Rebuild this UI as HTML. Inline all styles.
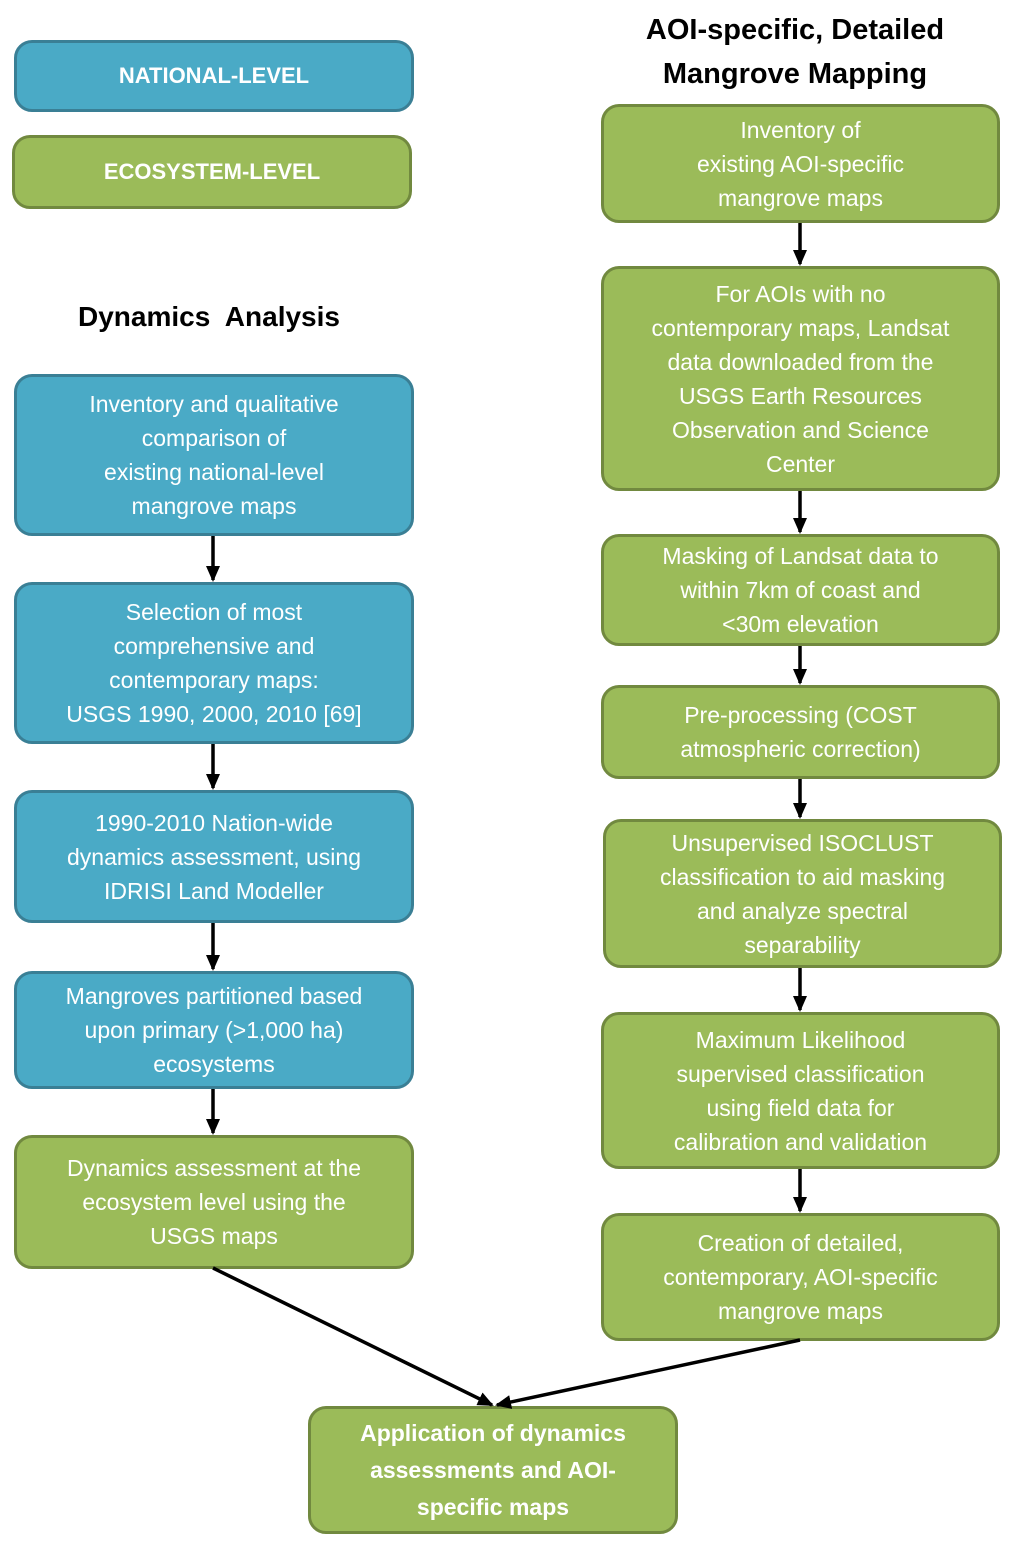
<!DOCTYPE html>
<html><head><meta charset="utf-8"><style>
body{margin:0;width:1024px;height:1553px;background:#fff;position:relative;font-family:"Liberation Sans",sans-serif;overflow:hidden}
.b{position:absolute;box-sizing:border-box;border-radius:18px;display:flex;align-items:center;justify-content:center;text-align:center;color:#fff;font-size:23px;line-height:34px;border:3px solid}
.bl{background:#4aaac6;border-color:#3a7f95}
.gr{background:#9bbb59;border-color:#71893f}
.t{position:absolute;font-weight:bold;text-align:center;color:#000}
.bd{font-weight:bold}
svg{position:absolute;left:0;top:0}
</style></head><body>
<div class="b bl bd" style="left:14px;top:40px;width:400px;height:72px;font-size:22px">NATIONAL-LEVEL</div>
<div class="b gr bd" style="left:12px;top:135px;width:400px;height:74px;font-size:22px">ECOSYSTEM-LEVEL</div>
<div class="t" style="left:0;width:418px;top:301px;font-size:28px">Dynamics&nbsp; Analysis</div>
<div class="t" style="left:590px;width:410px;top:8px;font-size:29px;line-height:44px">AOI-specific, Detailed<br>Mangrove Mapping</div>

<div class="b bl" style="left:14px;top:374px;width:400px;height:162px">Inventory and qualitative<br>comparison of<br>existing national-level<br>mangrove maps</div>
<div class="b bl" style="left:14px;top:582px;width:400px;height:162px">Selection of most<br>comprehensive and<br>contemporary maps:<br>USGS 1990, 2000, 2010 [69]</div>
<div class="b bl" style="left:14px;top:790px;width:400px;height:133px">1990-2010 Nation-wide<br>dynamics assessment, using<br>IDRISI Land Modeller</div>
<div class="b bl" style="left:14px;top:971px;width:400px;height:118px">Mangroves partitioned based<br>upon primary (&gt;1,000 ha)<br>ecosystems</div>
<div class="b gr" style="left:14px;top:1135px;width:400px;height:134px">Dynamics assessment at the<br>ecosystem level using the<br>USGS maps</div>

<div class="b gr" style="left:601px;top:104px;width:399px;height:119px">Inventory of<br>existing AOI-specific<br>mangrove maps</div>
<div class="b gr" style="left:601px;top:266px;width:399px;height:225px">For AOIs with no<br>contemporary maps, Landsat<br>data downloaded from the<br>USGS Earth Resources<br>Observation and Science<br>Center</div>
<div class="b gr" style="left:601px;top:534px;width:399px;height:112px">Masking of Landsat data to<br>within 7km of coast and<br>&lt;30m elevation</div>
<div class="b gr" style="left:601px;top:685px;width:399px;height:94px">Pre-processing (COST<br>atmospheric correction)</div>
<div class="b gr" style="left:603px;top:819px;width:399px;height:149px">Unsupervised ISOCLUST<br>classification to aid masking<br>and analyze spectral<br>separability</div>
<div class="b gr" style="left:601px;top:1012px;width:399px;height:157px">Maximum Likelihood<br>supervised classification<br>using field data for<br>calibration and validation</div>
<div class="b gr" style="left:601px;top:1213px;width:399px;height:128px">Creation of detailed,<br>contemporary, AOI-specific<br>mangrove maps</div>

<div class="b gr bd" style="left:308px;top:1406px;width:370px;height:128px;font-size:23px;line-height:37px">Application of dynamics<br>assessments and AOI-<br>specific maps</div>

<svg width="1024" height="1553">
<defs><marker id="m" markerWidth="16" markerHeight="14" refX="14" refY="7" orient="auto" markerUnits="userSpaceOnUse"><path d="M0,0 L16,7 L0,14z" fill="#000"/></marker></defs>
<g stroke="#000" stroke-width="3.5">
<line x1="213" y1="536" x2="213" y2="580" marker-end="url(#m)"/>
<line x1="213" y1="744" x2="213" y2="788" marker-end="url(#m)"/>
<line x1="213" y1="923" x2="213" y2="969" marker-end="url(#m)"/>
<line x1="213" y1="1089" x2="213" y2="1133" marker-end="url(#m)"/>
<line x1="800" y1="223" x2="800" y2="264" marker-end="url(#m)"/>
<line x1="800" y1="491" x2="800" y2="532" marker-end="url(#m)"/>
<line x1="800" y1="646" x2="800" y2="683" marker-end="url(#m)"/>
<line x1="800" y1="779" x2="800" y2="817" marker-end="url(#m)"/>
<line x1="800" y1="968" x2="800" y2="1010" marker-end="url(#m)"/>
<line x1="800" y1="1169" x2="800" y2="1211" marker-end="url(#m)"/>
<line x1="213" y1="1268" x2="492" y2="1405" marker-end="url(#m)"/>
<line x1="800" y1="1340" x2="497" y2="1405" marker-end="url(#m)"/>
</g></svg>
</body></html>
